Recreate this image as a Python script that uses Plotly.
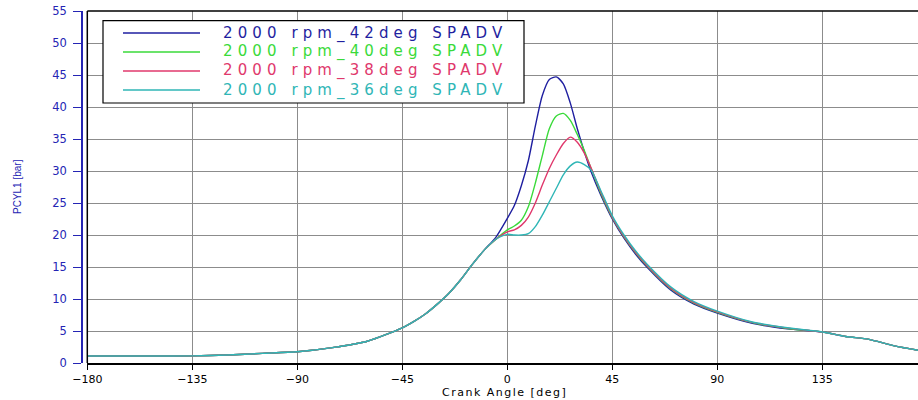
import plotly.graph_objects as go

# ---------------- data ----------------
crank_angle = [-180, -150, -135, -120, -105, -90, -75, -60, -45, -40, -35, -30, -25, -20, -15, -10, -5,
               0, 3, 6, 9, 12, 15, 18, 21, 24, 27, 30, 33, 36,
               40, 45, 50, 55, 60, 70, 80, 90,
               105, 120, 135, 145, 155, 165, 176, 180]

compression = [1.1, 1.1, 1.12, 1.25, 1.5, 1.75, 2.4, 3.4, 5.5, 6.5, 7.7, 9.2, 10.9, 13.0, 15.4, 17.6]
tail = [4.85, 4.15, 3.7, 2.75, 2.0, 1.8]

p_42deg = compression + [19.6, 22.6, 24.6, 27.7, 31.6, 37.0, 41.8, 44.3, 44.7, 43.6, 40.6, 36.6, 33.0, 29.8,
                         26.3, 22.5, 19.5, 17.0, 14.9, 11.4, 9.2, 7.8, 6.2, 5.35] + tail
p_40deg = compression + [19.3, 20.8, 21.4, 22.3, 24.4, 28.1, 32.4, 36.6, 38.6, 39.0, 37.9, 35.7, 33.2, 30.3,
                         26.6, 22.7, 19.7, 17.2, 15.1, 11.6, 9.35, 7.9, 6.3, 5.4] + tail
p_38deg = compression + [19.3, 20.5, 20.8, 21.5, 22.8, 25.0, 27.8, 30.4, 32.5, 34.3, 35.3, 34.5, 32.8, 30.4,
                         26.8, 22.8, 19.8, 17.3, 15.2, 11.7, 9.45, 8.0, 6.35, 5.45] + tail
p_36deg = compression + [19.3, 20.1, 20.0, 20.0, 20.2, 21.3, 23.1, 25.2, 27.3, 29.4, 30.8, 31.4, 31.0, 30.1,
                         27.0, 23.0, 20.0, 17.5, 15.4, 11.9, 9.6, 8.1, 6.4, 5.5] + tail

series_names = ["2000 rpm_42deg SPADV", "2000 rpm_40deg SPADV",
                "2000 rpm_38deg SPADV", "2000 rpm_36deg SPADV"]
series_values = [p_42deg, p_40deg, p_38deg, p_36deg]
series_colors = ["#1f1fa0", "#3ada3a", "#e0386c", "#2fb6b6"]

x_tick_vals = [-180, -135, -90, -45, 0, 45, 90, 135]
y_tick_vals = list(range(0, 56, 5))
x_title = "Crank Angle [deg]"
y_title = "PCYL1 [bar]"

# ---------------- layout helpers (window pixel -> paper) ----------------
W, H = 918, 400
# plot area in window: x 82..918, y 11..363
ML, MR, MT, MB = 82, 0, 11, 37
PW, PH = W - ML - MR, H - MT - MB


def fx(px):
    return (px - ML) / PW


def fy(py):
    return (H - MB - py) / PH


fig = go.Figure()
for name, vals, col in zip(series_names, series_values, series_colors):
    fig.add_trace(go.Scatter(x=crank_angle, y=vals, mode="lines", name=name,
                             line=dict(color=col, width=1.4, shape="spline", smoothing=0.7),
                             showlegend=False))

grid_col = "#8c8c8c"
axis_blue = "#2424b4"

fig.update_layout(
    width=W, height=H,
    margin=dict(l=ML, r=MR, t=MT, b=MB),
    paper_bgcolor="white", plot_bgcolor="white",
    font=dict(family="DejaVu Sans", size=11, color="black"),
    xaxis=dict(
        domain=[fx(87.3), 1], range=[-180, 176.0],
        tickvals=x_tick_vals, ticks="outside", ticklen=5, tickcolor="black",
        showline=True, linecolor="black", linewidth=2,
        showgrid=True, gridcolor=grid_col, gridwidth=1, zeroline=False,
        tickfont=dict(family="DejaVu Sans", size=11, color="black"),
        ticklabeloverflow="allow",
        automargin=False,
    ),
    yaxis=dict(
        anchor="free", position=0, range=[0, 55.001],
        tickvals=y_tick_vals, ticks="outside", ticklen=8, tickcolor=axis_blue, tickwidth=1.2,
        showline=True, linecolor=axis_blue, linewidth=1.5,
        showgrid=True, gridcolor=grid_col, gridwidth=1, zeroline=False,
        tickfont=dict(family="DejaVu Sans", size=11.5, color=axis_blue),
        ticklabelstandoff=4, ticklabeloverflow="allow",
        automargin=False,
    ),
)

shapes = [
    # plot frame: left and top
    dict(type="line", xref="paper", yref="paper", x0=fx(87.3), x1=fx(87.3), y0=0, y1=1,
         line=dict(color="black", width=1.5)),
    dict(type="line", xref="paper", yref="paper", x0=fx(87.3), x1=1, y0=1, y1=1,
         line=dict(color="black", width=1.5)),
    # legend box
    dict(type="rect", xref="paper", yref="paper", x0=fx(103), x1=fx(524), y0=fy(103), y1=fy(20.7),
         fillcolor="white", line=dict(color="black", width=1.2), layer="above"),
]
annotations = [
    dict(xref="paper", yref="paper", x=fx(504), y=fy(392.5), xanchor="center", yanchor="middle",
         showarrow=False, text=f"<span style='letter-spacing:1.5px'>{x_title}</span>",
         font=dict(family="DejaVu Sans", size=11, color="black")),
    dict(xref="paper", yref="paper", x=fx(17), y=fy(187), xanchor="center", yanchor="middle",
         showarrow=False, textangle=-90, text=y_title,
         font=dict(family="Liberation Sans", size=10, color=axis_blue)),
]
row_y = [33, 52, 71, 90]
for ry, name, col in zip(row_y, series_names, series_colors):
    shapes.append(dict(type="line", xref="paper", yref="paper", x0=fx(123), x1=fx(200),
                       y0=fy(ry), y1=fy(ry), line=dict(color=col, width=1.4), layer="above"))
    annotations.append(dict(xref="paper", yref="paper", x=fx(221), y=fy(ry), xanchor="left",
                            yanchor="middle", showarrow=False,
                            text=f"<span style='letter-spacing:5.1px'>{name}</span>",
                            font=dict(family="DejaVu Sans", size=15, color=col)))

fig.update_layout(shapes=shapes, annotations=annotations)

fig.write_html("out.html", config={"displayModeBar": False},
               post_script="document.body.style.margin='0';document.body.style.overflow='hidden';")
